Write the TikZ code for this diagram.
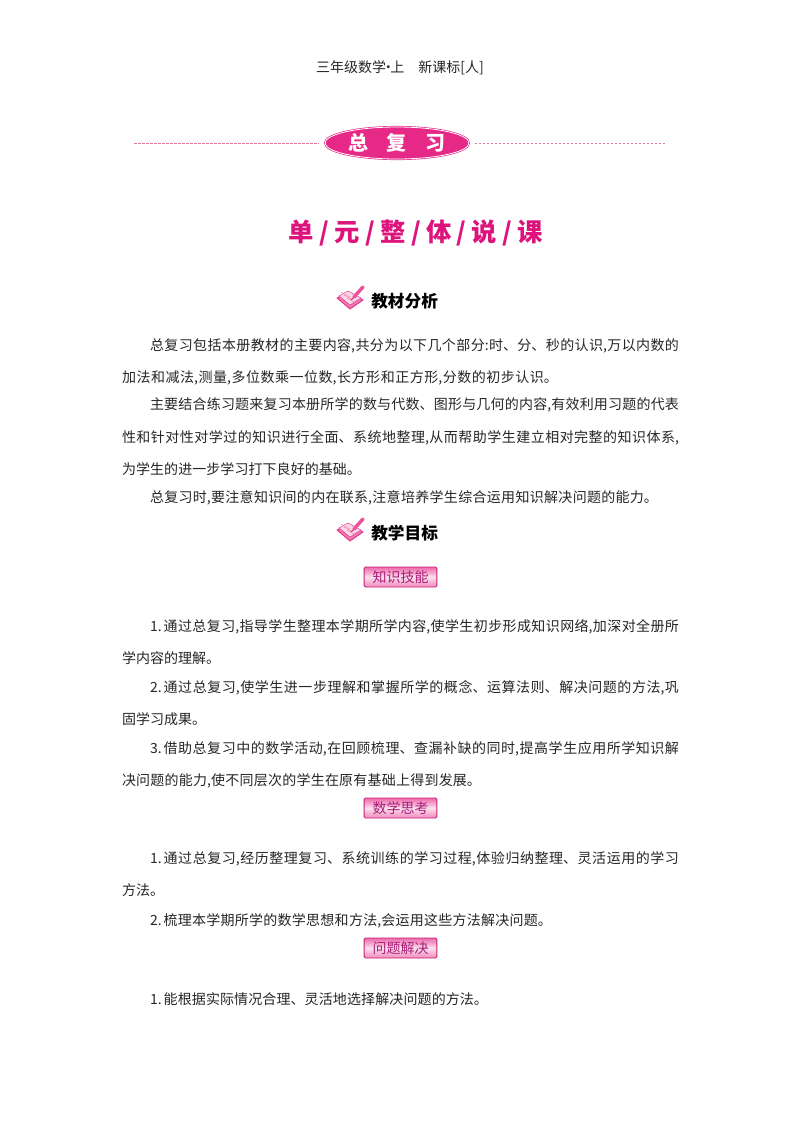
\documentclass[tikz,border=0pt]{standalone}
\usepackage{fontspec}
\setmainfont{Noto Sans CJK SC}
\usetikzlibrary{shapes.geometric}
\definecolor{rosered}{RGB}{230,40,135}
\definecolor{titlered}{RGB}{222,20,125}
\definecolor{dashpink}{RGB}{225,120,160}
\definecolor{bookpink}{RGB}{238,120,170}
\definecolor{badgetext}{RGB}{170,30,120}
\XeTeXlinebreaklocale "zh"
\XeTeXlinebreakskip=0pt plus 2pt minus 0.6pt
% one justified line, width given in reference pixels
\newcommand{\fitline}[2]{\parbox{#1\dimexpr0.75pt\relax}{\tolerance=9999\hbadness=10000\parindent=0pt\parfillskip=0pt\relax #2}}
\newcommand{\sep}{\hspace{4pt}/\hspace{4pt}}
\begin{document}
\begin{tikzpicture}
	[
	x=0.75pt,y=-0.75pt,
	page/.style={inner sep=0pt,outer sep=0pt,anchor=west,yshift=-1.2pt,font=\fontsize{10.5}{12}\selectfont,text=black!85},
	heading/.style={inner sep=0pt,anchor=west,font=\fontsize{12.5}{15}\selectfont\bfseries},
	badge/.style={draw=rosered!85!black,line width=0.7pt,rounded corners=1pt,minimum width=54.5pt,minimum height=15pt,inner sep=0pt,top color=rosered!70,bottom color=rosered!55,middle color=rosered!15,font=\fontsize{10.5}{12}\selectfont,text=badgetext},
	book/.style={fill=bookpink,draw=rosered,line width=0.6pt,line join=round},
	]
		\useasboundingbox (0,0) rectangle (800,1132);
		\fill[white] (0,0) rectangle (800,1132);

		% header
		\node[page,anchor=center] (head) at (400,66) {三年级数学\kern-0.35em·\kern-0.35em 上\hspace{1em}新课标[人]};

		% chapter badge
		\node[ellipse,fill=rosered,draw=rosered,double=white,double distance=0.6pt,line width=0.5pt,minimum width=108pt,minimum height=24pt,inner sep=0pt,text=white,font=\fontsize{15}{17}\selectfont\bfseries] (chapter) at (397,143) {总\hspace{0.95em}复\hspace{0.95em}习};
		\coordinate (dl) at (134,143);
		\coordinate (dr) at (666,143);
		\draw[dashpink,dashed,dash pattern=on 2pt off 1pt,line width=0.5pt] (dl) -- ([xshift=-4pt]chapter.west);
		\draw[dashpink,dashed,dash pattern=on 2pt off 1pt,line width=0.5pt] ([xshift=4pt]chapter.east) -- (dr);

		% title
		\node[inner sep=0pt,text=titlered,font=\fontsize{19}{22}\selectfont\bfseries] (title) at (416,233) {单\sep 元\sep 整\sep 体\sep 说\sep 课};

		% first block
		\node[heading] (h1) at (371,301) {教材分析};
		\foreach \ypos in {301,533} {
			\begin{scope}[shift={(350,\ypos)}]
				\draw[book] (-13,-3) -- (-2,-9) -- (13,-1) -- (0,8) -- cycle;
				\draw[fill=bookpink!30,draw=rosered,line width=0.3pt] (-11,-5) -- (-2,-10) -- (11,-3) -- (0,4) -- cycle;
				\foreach \off in {-3,0,3} \draw[bookpink,line width=0.3pt] (-6+\off,-6+\off) -- (3+\off,-1+\off);
				\draw[rosered!80,line width=2.6pt,line cap=round] (4,-4) -- (13,-14);
				\draw[rosered,line width=0.6pt] (4,-4) -- (1,-1);
			\end{scope}
		}
		\node[page] (a1) at (150,344) {\fitline{529}{总复习包括本册教材的主要内容,共分为以下几个部分:时、分、秒的认识,万以内数的}};
		\node[page] (a2) at (122,376) {\fitline{436}{加法和减法,测量,多位数乘一位数,长方形和正方形,分数的初步认识。}};
		\node[page] (a3) at (150,403) {\fitline{529}{主要结合练习题来复习本册所学的数与代数、图形与几何的内容,有效利用习题的代表}};
		\node[page] (a4) at (122,436) {\fitline{557}{性和针对性对学过的知识进行全面、系统地整理,从而帮助学生建立相对完整的知识体系,}};
		\node[page] (a5) at (122,468) {\fitline{239}{为学生的进一步学习打下良好的基础。}};
		\node[page] (a6) at (150,496) {\fitline{508}{总复习时,要注意知识间的内在联系,注意培养学生综合运用知识解决问题的能力。}};

		% second block
		\node[heading] (h2) at (371,533) {教学目标};

		\node[badge] (b1) at (400.5,577) {知识技能};
		\node[page] (c1) at (150,625) {\fitline{529}{1.\kern1.5pt 通过总复习,指导学生整理本学期所学内容,使学生初步形成知识网络,加深对全册所}};
		\node[page] (c2) at (122,657) {\fitline{98}{学内容的理解。}};
		\node[page] (c3) at (150,686) {\fitline{529}{2.\kern1.5pt 通过总复习,使学生进一步理解和掌握所学的概念、运算法则、解决问题的方法,巩}};
		\node[page] (c4) at (122,718) {\fitline{84}{固学习成果。}};
		\node[page] (c5) at (150,747) {\fitline{529}{3.\kern1.5pt 借助总复习中的数学活动,在回顾梳理、查漏补缺的同时,提高学生应用所学知识解}};
		\node[page] (c6) at (122,779) {\fitline{359}{决问题的能力,使不同层次的学生在原有基础上得到发展。}};

		\node[badge] (b2) at (400.5,808) {数学思考};
		\node[page] (d1) at (150,857) {\fitline{529}{1.\kern1.5pt 通过总复习,经历整理复习、系统训练的学习过程,体验归纳整理、灵活运用的学习}};
		\node[page] (d2) at (122,889) {方法。};
		\node[page] (d3) at (150,919) {\fitline{402}{2.\kern1.5pt 梳理本学期所学的数学思想和方法,会运用这些方法解决问题。}};

		\node[badge] (b3) at (400.5,948) {问题解决};
		\node[page] (e1) at (150,998) {\fitline{338}{1.\kern1.5pt 能根据实际情况合理、灵活地选择解决问题的方法。}};
	\end{tikzpicture}
\end{document}
